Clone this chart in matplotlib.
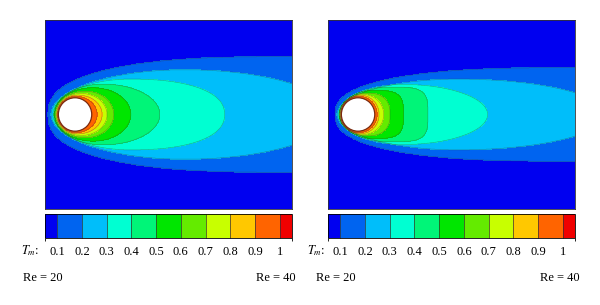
#!/usr/bin/env python3
"""
Temperature contours behind a heated cylinder for two Reynolds numbers.
"""

import matplotlib

matplotlib.use("Agg")
import matplotlib.pyplot as plt
import numpy as np
from matplotlib.colors import BoundaryNorm, ListedColormap
from matplotlib.cm import ScalarMappable
from matplotlib.patches import Circle

# colour bands of the T_m scale (below 0.1 ... above 1)
band_colors = [
    "#0000F0", "#0064F0", "#00BEFA", "#00FFD2", "#00F578", "#00E600",
    "#64EB00", "#C8FF00", "#FFC800", "#FF6400", "#F00000",
]
tick_values = [0.1, 0.2, 0.3, 0.4, 0.5, 0.6, 0.7, 0.8, 0.9, 1.0]
tick_labels = ["0.1", "0.2", "0.3", "0.4", "0.5", "0.6", "0.7", "0.8", "0.9", "1"]
bar_bounds = [0.05] + tick_values + [1.05]

# isotherm shapes (units of cylinder diameter, centre at origin)
# one entry per level 0.1 ... 0.9: upstream reach, x of widest point,
# downstream reach, half-width, nose / tail roundness exponents
contour_levels = [0.1, 0.2, 0.3, 0.4, 0.5, 0.6, 0.7, 0.8, 0.9]

re20_front = [0.81, 0.72, 0.66, 0.63, 0.61, 0.58, 0.56, 0.54, 0.52]
re20_peak = [5.97, 3.28, 1.64, 0.84, 0.54, 0.30, 0.18, 0.09, 0.03]
re20_tail = [23.9, 7.70, 4.48, 2.54, 1.67, 1.16, 0.96, 0.81, 0.66]
re20_width = [1.73, 1.34, 1.06, 0.91, 0.80, 0.70, 0.63, 0.58, 0.54]
re20_front_exp = [2.5, 2.0, 2.0, 2.0, 2.0, 2.0, 2.0, 2.0, 2.0]
re20_tail_exp = [2.0, 2.0, 2.3, 2.0, 2.0, 2.0, 2.0, 2.0, 2.0]

re40_front = [0.69, 0.63, 0.58, 0.56, 0.55, 0.54, 0.53, 0.52, 0.51]
re40_peak = [5.97, 2.99, 1.34, 0.90, 0.45, 0.27, 0.15, 0.09, 0.03]
re40_tail = [23.9, 7.43, 3.88, 2.09, 1.36, 0.96, 0.77, 0.63, 0.57]
re40_width = [1.40, 1.06, 0.90, 0.82, 0.72, 0.64, 0.60, 0.57, 0.54]
re40_front_exp = [2.5, 2.0, 2.0, 2.0, 2.0, 2.0, 2.0, 2.0, 2.0]
re40_tail_exp = [2.0, 2.0, 2.0, 4.0, 3.5, 2.5, 2.0, 2.0, 2.0]

cyl_radius = 0.5
x_range = (-0.9, 6.5)
y_range = (-2.83, 2.83)

plt.rcParams["font.family"] = ["Liberation Serif", "DejaVu Serif"]
plt.rcParams["mathtext.fontset"] = "stix"


def inside_shape(X, Y, a_f, x_m, a_b, h, pf, pb):
    """True where (X, Y) lies within one egg-shaped isotherm."""
    front = X < x_m
    u = np.where(front, (x_m - X) / (x_m + a_f), (X - x_m) / (a_b - x_m))
    p = np.where(front, pf, pb)
    uc = np.clip(u, 0, 1)
    w = h * (1 - uc**p) ** (1 / p)
    return (u < 1) & (np.abs(Y) < w)


def build_field(front, peak, tail, width, pf, pb):
    x = np.linspace(*x_range, 900)
    y = np.linspace(*y_range, 700)
    X, Y = np.meshgrid(x, y)
    count = np.zeros_like(X)
    for k in range(len(contour_levels)):
        count += inside_shape(X, Y, front[k], peak[k], tail[k], width[k], pf[k], pb[k])
    T = 0.05 + 0.1 * count
    T[np.hypot(X, Y) < cyl_radius] = np.nan
    return X, Y, T


def draw_panel(ax, cax, field):
    X, Y, T = field
    cmap = ListedColormap(band_colors[:10])
    fill_levels = [0.0] + tick_values
    ax.contourf(X, Y, T, levels=fill_levels, cmap=cmap,
                norm=BoundaryNorm(fill_levels, 10))
    ax.contour(X, Y, T, levels=contour_levels, colors="#3a3a3a",
               linewidths=0.35, alpha=0.5)
    ax.add_patch(Circle((0, 0), cyl_radius, facecolor="white",
                        edgecolor="#7a2a10", linewidth=0.9, zorder=3))
    ax.set_xlim(*x_range)
    ax.set_ylim(*y_range)
    ax.set_xticks([])
    ax.set_yticks([])
    for s in ax.spines.values():
        s.set_linewidth(0.6)
        s.set_color("#333333")

    bar_cmap = ListedColormap(band_colors)
    sm = ScalarMappable(norm=BoundaryNorm(bar_bounds, len(band_colors)), cmap=bar_cmap)
    cb = plt.colorbar(sm, cax=cax, orientation="horizontal",
                      boundaries=bar_bounds, spacing="proportional",
                      drawedges=True)
    cb.set_ticks(tick_values)
    cb.set_ticklabels(tick_labels)
    cb.ax.tick_params(length=0, pad=6, labelsize=9)
    cb.outline.set_linewidth(0.6)
    cb.dividers.set_linewidth(0.5)
    cb.dividers.set_color("#333333")


fig = plt.figure(figsize=(6.0, 3.05), dpi=100)

panels = [
    (0.075, build_field(re20_front, re20_peak, re20_tail, re20_width,
                        re20_front_exp, re20_tail_exp)),
    (0.5467, build_field(re40_front, re40_peak, re40_tail, re40_width,
                         re40_front_exp, re40_tail_exp)),
]

for left, field in panels:
    ax = fig.add_axes([left, 0.3148, 0.4117, 0.6197])
    cax = fig.add_axes([left, 0.2197, 0.4117, 0.0787])
    draw_panel(ax, cax, field)

# labels under each bar
fig.text(0.066, 0.177, r"$T_m$:", ha="right", va="center", fontsize=9)
fig.text(0.542, 0.177, r"$T_m$:", ha="right", va="center", fontsize=9)
fig.text(0.038, 0.0885, "Re = 20", ha="left", va="center", fontsize=9)
fig.text(0.493, 0.0885, "Re = 40", ha="right", va="center", fontsize=9)
fig.text(0.526, 0.0885, "Re = 20", ha="left", va="center", fontsize=9)
fig.text(0.9655, 0.0885, "Re = 40", ha="right", va="center", fontsize=9)

fig.savefig("out.png", dpi=100)
